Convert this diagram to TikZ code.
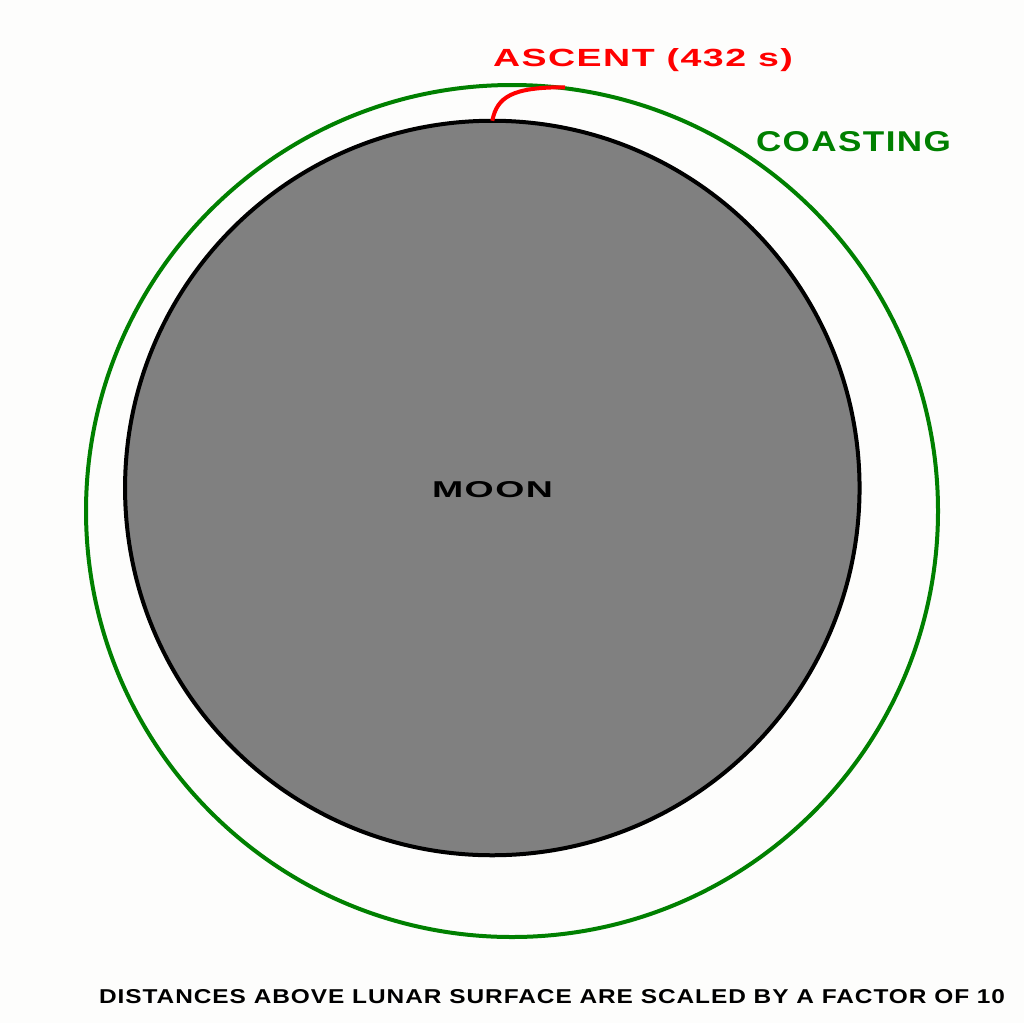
\documentclass[tikz,border=0pt]{standalone}
\usepackage{fontspec}
\usepackage{graphicx}
\newfontfamily\widefont{Liberation Sans}[LetterSpace=4]
\definecolor{bgc}{RGB}{253,253,252}
\definecolor{moongray}{RGB}{128,128,128}
\definecolor{orbitgreen}{RGB}{0,128,0}
\definecolor{ascentred}{RGB}{255,0,0}
\begin{document}
\begin{tikzpicture}[x=1pt,y=-1pt,
  lbl/.style={inner sep=0pt, outer sep=0pt, anchor=base west},
  body/.style={circle, inner sep=0pt, outer sep=0pt, line width=4pt}]
\useasboundingbox (0,0) rectangle (1024,1023);
\fill[bgc] (0,0) rectangle (1024,1023);
% orbit
\node[body, draw=orbitgreen, minimum size=852pt] (orbit) at (512,511) {};
% moon
\node[body, draw=black, fill=moongray, minimum size=734.5pt] (moon) at (492.3,488) {};
% ascent
\coordinate (join) at (565,87.3);
\draw[ascentred, line width=4pt] (moon.north) .. controls (497,97) and (512,87) .. (join);
% labels
\node[lbl, text=ascentred] (ascent) at (493,66) {\resizebox{300pt}{18pt}{\widefont\bfseries ASCENT (432 s)}};
\node[lbl, text=orbitgreen] (coasting) at (756,151) {\resizebox{195pt}{20pt}{\widefont\bfseries COASTING}};
\node[lbl, text=black] (moonlbl) at (432,497) {\resizebox{121pt}{16pt}{\widefont\bfseries MOON}};
\node[lbl, text=black] (note) at (99,1003) {\resizebox{906pt}{14pt}{\widefont\bfseries DISTANCES ABOVE LUNAR SURFACE ARE SCALED BY A FACTOR OF 10}};
\end{tikzpicture}
\end{document}
